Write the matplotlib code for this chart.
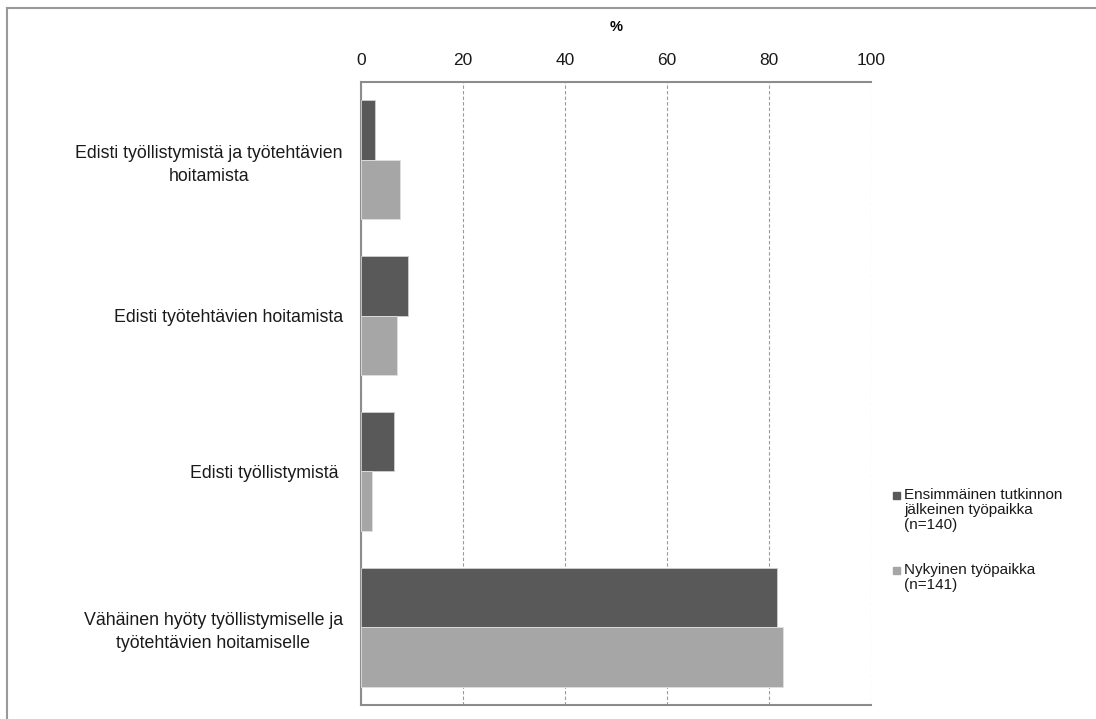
import numpy as np
import matplotlib.pyplot as plt
from matplotlib.patches import Rectangle

plt.rcParams['font.family'] = ['Liberation Sans', 'DejaVu Sans']

# data
categories = ['Edisti työllistymistä ja työtehtävien\nhoitamista',
              'Edisti työtehtävien hoitamista',
              'Edisti työllistymistä ',
              'Vähäinen hyöty työllistymiselle ja\ntyötehtävien hoitamiselle']
first_job = [2.7, 9.3, 6.5, 81.5]
current_job = [7.6, 7.0, 2.1, 82.8]
series_labels = ['Ensimmäinen tutkinnon\njälkeinen työpaikka\n(n=140)',
                 'Nykyinen työpaikka\n(n=141)']
xticks = [0, 20, 40, 60, 80, 100]

dark = '#595959'
light = '#a6a6a6'
W, H = 1096, 719

fig = plt.figure(figsize=(W / 100, H / 100), dpi=100)
ax = fig.add_axes([361 / W, 1 - 705 / H, 510 / W, 623 / H])

y = np.arange(len(categories))
h = 0.382
ax.barh(y - h / 2, first_job, height=h, color=dark, edgecolor='#cfcfcf', linewidth=0.6, zorder=3)
ax.barh(y + h / 2, current_job, height=h, color=light, edgecolor='#e0e0e0', linewidth=0.6, zorder=3)

ax.set_xlim(0, 100)
ax.set_ylim(len(categories) - 0.5, -0.5)
ax.set_yticks(y)
ax.set_yticklabels(categories, fontsize=12.8, ha='right', multialignment='center',
                   linespacing=1.45)
ax.set_xticks(xticks)
ax.set_xticklabels([str(t) for t in xticks], fontsize=12.5)
ax.xaxis.tick_top()
ax.xaxis.set_label_position('top')
ax.set_xlabel('%', fontsize=10.5, fontweight='bold', labelpad=16)
ax.tick_params(axis='x', length=0, pad=10, colors='#1a1a1a')
ax.tick_params(axis='y', length=0, pad=13, colors='#1a1a1a')
ax.grid(axis='x', color='#9a9a9a', linestyle=(0, (3, 2)), linewidth=0.8, zorder=0)

for s in ['left', 'top', 'bottom']:
    ax.spines[s].set_color('#8c8c8c')
    ax.spines[s].set_linewidth(1.5)
ax.spines['right'].set_visible(False)

# legend, square beside the first line of each entry
legend_tops = [488, 563]
for lab, col, top in zip(series_labels, [dark, light], legend_tops):
    fig.add_artist(Rectangle((893 / W, 1 - (top + 11) / H), 7 / W, 7 / H,
                             transform=fig.transFigure, color=col))
    fig.text(904 / W, 1 - top / H, lab, fontsize=11, va='top', ha='left',
             linespacing=1.1, color='#1a1a1a')

# outer chart frame
fig.add_artist(plt.Line2D([7 / W, 1], [1 - 8 / H, 1 - 8 / H], color='#999999', lw=1.5))
fig.add_artist(plt.Line2D([7 / W, 7 / W], [0, 1 - 8 / H], color='#999999', lw=1.5))

fig.savefig('out.png', dpi=100)
